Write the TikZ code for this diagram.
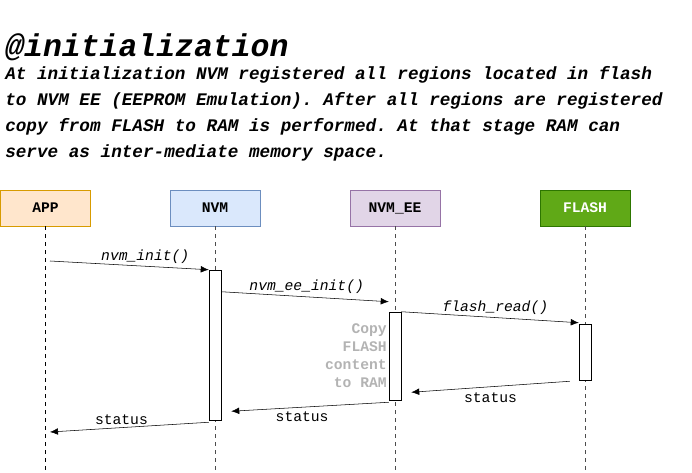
\documentclass[tikz,border=0pt]{standalone}
\usepackage{fontspec}
\setmonofont{Liberation Mono}
\usetikzlibrary{positioning, arrows.meta, calc}

\definecolor{appfill}{HTML}{FFE6CC}
\definecolor{appline}{HTML}{D79B00}
\definecolor{nvmfill}{HTML}{DAE8FC}
\definecolor{nvmline}{HTML}{6C8EBF}
\definecolor{eefill}{HTML}{E1D5E7}
\definecolor{eeline}{HTML}{9673A6}
\definecolor{flashfill}{HTML}{60A917}
\definecolor{flashline}{HTML}{2D7600}
\definecolor{notegray}{HTML}{B3B3B3}

\tikzset{
    part/.style={rectangle, draw, minimum width=67.5pt, minimum height=27pt, inner sep=0pt,
                 font=\ttfamily\bfseries\fontsize{11}{13}\selectfont},
    life/.style={dashed, thin},
    act/.style={rectangle, draw, fill=white, minimum width=9pt, inner sep=0pt, thin},
    msg/.style={-{Latex[length=6pt, width=5pt]}, thin},
    msglabel/.style={font=\ttfamily\fontsize{11}{13}\selectfont, inner sep=1pt},
    calllabel/.style={msglabel, font=\ttfamily\itshape\fontsize{11}{13}\selectfont}
}

\begin{document}
\begin{tikzpicture}[x=0.75pt, y=-0.75pt]
        \useasboundingbox (0,0) rectangle (692,473);

        % Heading
        \node (title) [anchor=base west, inner sep=0pt, font=\ttfamily\bfseries\itshape\fontsize{23.6}{28}\selectfont] at (5,57) {@initialization};
        \node (intro) [anchor=base west, inner sep=0pt, align=left, font=\ttfamily\bfseries\itshape\fontsize{13.25}{19.5}\selectfont] at (5,158)
                    {At initialization NVM registered all regions located in flash\\
                    to NVM EE (EEPROM Emulation). After all regions are registered\\
                    copy from FLASH to RAM is performed. At that stage RAM can\\
                    serve as inter-mediate memory space.};

        % Participants
        \node (app) [part, fill=appfill, draw=appline] at (45.5,208) {APP};
        \node (nvm) [part, fill=nvmfill, draw=nvmline] at (215,208) {NVM};
        \node (nvmee) [part, fill=eefill, draw=eeline] at (395,208) {NVM\_EE};
        \node (flash) [part, fill=flashfill, draw=flashline, text=white] at (585,208) {FLASH};

        % Lifelines
        \coordinate (append) at (45,473);
        \coordinate (nvmend) at (215,473);
        \coordinate (eeend) at (395,473);
        \coordinate (flashend) at (585,473);
        \draw[life] (app.south -| append) -- (append);
        \draw[life, draw=black!70] (nvm.south) -- (nvmend);
        \draw[life, draw=black!70] (nvmee.south) -- (eeend);
        \draw[life, draw=black!70] (flash.south) -- (flashend);

        % Activations
        \node (actnvm) [act, minimum height=112.5pt] at (215,345) {};
        \node (actee) [act, minimum height=66pt] at (395,356) {};
        \node (actflash) [act, minimum height=42pt] at (585,352) {};

        % Messages
        \coordinate (m1s) at (50,261);
        \draw[msg] (m1s) -- node[calllabel, above=1pt, pos=0.6] {nvm\_init()} (actnvm.north west);
        \draw[msg] ($(actnvm.north east)+(0,22)$) -- node[calllabel, above=1pt, pos=0.51] {nvm\_ee\_init()} ($(actee.north west)+(0,-10)$);
        \draw[msg] (actee.north east) -- node[calllabel, above=1pt, pos=0.53] {flash\_read()} ($(actflash.north west)+(0,-1)$);
        \draw[msg] ($(actflash.south west)+(-9,1)$) -- node[msglabel, below=3pt, pos=0.5] {status} ($(actee.south east)+(10,-8)$);
        \draw[msg] ($(actee.south west)+(0,2)$) -- node[msglabel, below=2pt, pos=0.55] {status} ($(actnvm.south east)+(10,-9)$);
        \coordinate (m6e) at (50,432);
        \draw[msg] ($(actnvm.south west)+(0,2)$) -- node[msglabel, above=1pt, pos=0.55] {status} (m6e);

        % Note
        \node (note) [anchor=north east, inner sep=0pt, align=right, text=notegray, font=\ttfamily\bfseries\fontsize{11}{13.5}\selectfont] at (387,323)
                    {Copy\\FLASH\\content\\to RAM};
\end{tikzpicture}
\end{document}
